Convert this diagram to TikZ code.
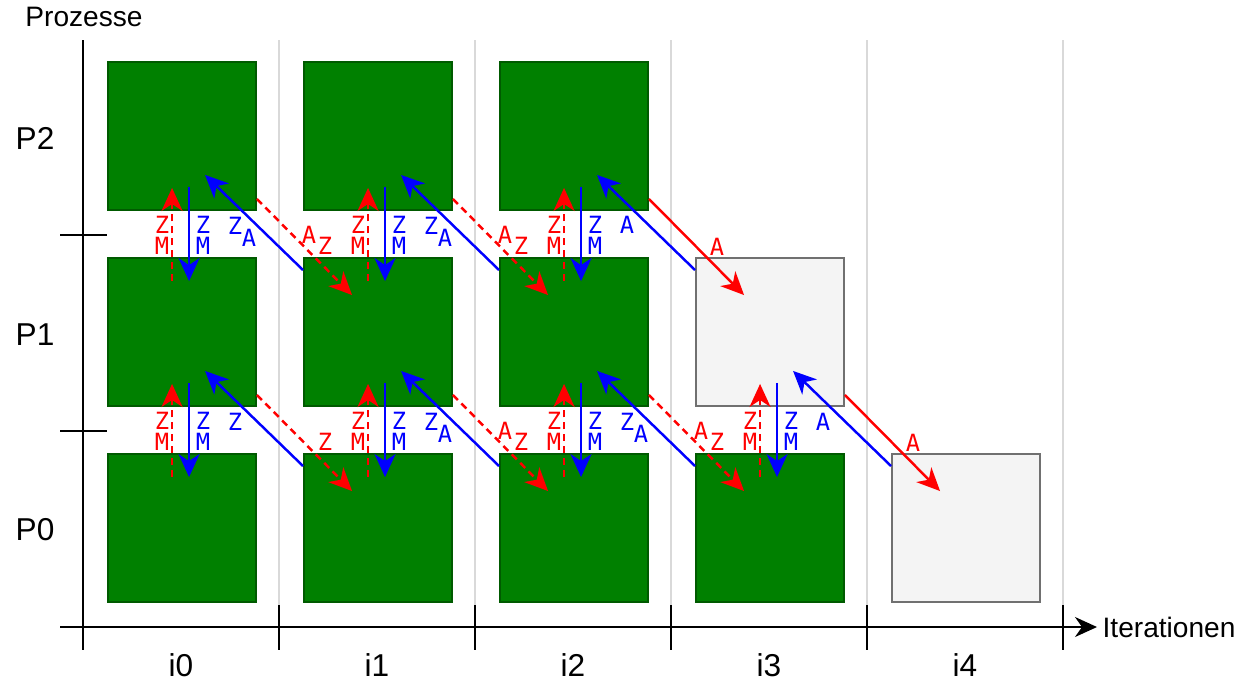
\documentclass[tikz,border=0pt]{standalone}
\usepackage{fontspec}
\setmainfont{Liberation Sans}
\setmonofont{DejaVu Sans Mono}
\usepackage{xcolor}
\usepackage{tikz}
\usetikzlibrary{arrows.meta,calc,positioning}

\definecolor{workfill}{HTML}{008000}
\definecolor{workline}{HTML}{005A00}
\definecolor{idlefill}{HTML}{F4F4F4}
\definecolor{idleline}{HTML}{707070}
\definecolor{gridgray}{HTML}{D9D9D9}

\begin{document}
\begin{tikzpicture}[x=0.02cm,y=-0.02cm]
  % Styles
  \tikzset{
    work/.style={rectangle, draw=workline, fill=workfill, line width=1.1pt,
      minimum width=2.96cm, minimum height=2.96cm, inner sep=0pt},
    idle/.style={rectangle, draw=idleline, fill=idlefill, line width=1.1pt,
      minimum width=2.96cm, minimum height=2.96cm, inner sep=0pt},
    axis/.style={line width=1.1pt, black},
    gridline/.style={line width=1.5pt, gridgray},
    big/.style={font=\fontsize{18}{18}\selectfont, inner sep=0pt},
    small/.style={font=\fontsize{16}{16}\selectfont, inner sep=0pt},
    msg/.style={font=\ttfamily\fontsize{13.5}{12}\selectfont, inner sep=0pt, align=center},
    tip/.style={-{Stealth[length=0.46cm,width=0.42cm,inset=0.14cm]}, line width=1.4pt},
    sendarrow/.style={tip, blue},
    recvarrow/.style={tip, red, dash pattern=on 4pt off 2.8pt},
    passarrow/.style={tip, red}
  }
  \useasboundingbox (0,0) rectangle (1254,691);

  % Grid and axes
  \coordinate (origin) at (83,627);
  \coordinate (xend) at (1097,627);
  \coordinate (yend) at (83,40);
  \draw[gridline] (279,40) -- (279,605);
  \draw[gridline] (475,40) -- (475,605);
  \draw[gridline] (671,40) -- (671,605);
  \draw[gridline] (867,40) -- (867,605);
  \draw[gridline] (1063,40) -- (1063,605);
  \draw[axis] (yend) -- (83,650);
  \draw[axis, -{Stealth[length=0.44cm,width=0.4cm,inset=0.14cm]}] (60,627) -- (xend);
  \draw[axis] (279,605) -- (279,650);
  \draw[axis] (475,605) -- (475,650);
  \draw[axis] (671,605) -- (671,650);
  \draw[axis] (867,605) -- (867,650);
  \draw[axis] (1063,605) -- (1063,650);
  \draw[axis] (60,235) -- (107,235);
  \draw[axis] (60,431) -- (107,431);

  % Axis labels
  \node[small] (procs) at (84,17) {Prozesse};
  \node[small, right=3pt of xend] (iters) {Iterationen};
  \node[big] (p2) at (35,138) {P2};
  \node[big] (p1) at (35,335) {P1};
  \node[big] (p0) at (35,530) {P0};
  \node[big] (i0) at (181,665) {i0};
  \node[big] (i1) at (377,665) {i1};
  \node[big] (i2) at (573,665) {i2};
  \node[big] (i3) at (769,665) {i3};
  \node[big] (i4) at (965,665) {i4};

  % Boxes
  \node[work] (i0p2) at (182,136) {};
  \node[work] (i1p2) at (378,136) {};
  \node[work] (i2p2) at (574,136) {};
  \node[work] (i0p1) at (182,332) {};
  \node[work] (i1p1) at (378,332) {};
  \node[work] (i2p1) at (574,332) {};
  \node[idle] (i3p1) at (770,332) {};
  \node[work] (i0p0) at (182,528) {};
  \node[work] (i1p0) at (378,528) {};
  \node[work] (i2p0) at (574,528) {};
  \node[work] (i3p0) at (770,528) {};
  \node[idle] (i4p0) at (966,528) {};

  % Arrows P2 <-> P1
  \draw[recvarrow] ($(i0p1.north west)+(65,24)$) -- ($(i0p2.south west)+(65,-23)$);
  \draw[sendarrow] ($(i0p2.south west)+(82,-24)$) -- ($(i0p1.north west)+(82,24)$);
  \draw[sendarrow] ($(i1p1.north west)+(0,13)$) -- ($(i0p2.south west)+(98,-36)$);
  \draw[recvarrow] ($(i0p2.south east)+(0,-12)$) -- ($(i1p1.north west)+(49,38)$);
  \draw[recvarrow] ($(i1p1.north west)+(65,24)$) -- ($(i1p2.south west)+(65,-23)$);
  \draw[sendarrow] ($(i1p2.south west)+(82,-24)$) -- ($(i1p1.north west)+(82,24)$);
  \draw[sendarrow] ($(i2p1.north west)+(0,13)$) -- ($(i1p2.south west)+(98,-36)$);
  \draw[recvarrow] ($(i1p2.south east)+(0,-12)$) -- ($(i2p1.north west)+(49,38)$);
  \draw[recvarrow] ($(i2p1.north west)+(65,24)$) -- ($(i2p2.south west)+(65,-23)$);
  \draw[sendarrow] ($(i2p2.south west)+(82,-24)$) -- ($(i2p1.north west)+(82,24)$);
  \draw[sendarrow] ($(i3p1.north west)+(0,13)$) -- ($(i2p2.south west)+(98,-36)$);
  \draw[passarrow] ($(i2p2.south east)+(0,-12)$) -- ($(i3p1.north west)+(49,38)$);

  % Arrows P1 <-> P0
  \draw[recvarrow] ($(i0p0.north west)+(65,24)$) -- ($(i0p1.south west)+(65,-23)$);
  \draw[sendarrow] ($(i0p1.south west)+(82,-24)$) -- ($(i0p0.north west)+(82,24)$);
  \draw[sendarrow] ($(i1p0.north west)+(0,13)$) -- ($(i0p1.south west)+(98,-36)$);
  \draw[recvarrow] ($(i0p1.south east)+(0,-12)$) -- ($(i1p0.north west)+(49,38)$);
  \draw[recvarrow] ($(i1p0.north west)+(65,24)$) -- ($(i1p1.south west)+(65,-23)$);
  \draw[sendarrow] ($(i1p1.south west)+(82,-24)$) -- ($(i1p0.north west)+(82,24)$);
  \draw[sendarrow] ($(i2p0.north west)+(0,13)$) -- ($(i1p1.south west)+(98,-36)$);
  \draw[recvarrow] ($(i1p1.south east)+(0,-12)$) -- ($(i2p0.north west)+(49,38)$);
  \draw[recvarrow] ($(i2p0.north west)+(65,24)$) -- ($(i2p1.south west)+(65,-23)$);
  \draw[sendarrow] ($(i2p1.south west)+(82,-24)$) -- ($(i2p0.north west)+(82,24)$);
  \draw[sendarrow] ($(i3p0.north west)+(0,13)$) -- ($(i2p1.south west)+(98,-36)$);
  \draw[recvarrow] ($(i2p1.south east)+(0,-12)$) -- ($(i3p0.north west)+(49,38)$);
  \draw[recvarrow] ($(i3p0.north west)+(65,24)$) -- ($(i3p1.south west)+(65,-23)$);
  \draw[sendarrow] ($(i3p1.south west)+(82,-24)$) -- ($(i3p0.north west)+(82,24)$);
  \draw[sendarrow] ($(i4p0.north west)+(0,13)$) -- ($(i3p1.south west)+(98,-36)$);
  \draw[passarrow] ($(i3p1.south east)+(0,-12)$) -- ($(i4p0.north west)+(49,38)$);

  % Message labels P2 <-> P1
  \node[msg, red] (rzm0a) at (162,235.5) {Z\\M};
  \node[msg, blue] (bzm0a) at (203,235.5) {Z\\M};
  \node[msg, blue] (sz0a) at (235,226) {Z};  \node[msg, blue] (sa0a) at (249,238) {A};
  \node[msg, red] (ra0a) at (309,235) {A};   \node[msg, red] (rr0a) at (325,246) {Z};
  \node[msg, red] (rzm1a) at (358,235.5) {Z\\M};
  \node[msg, blue] (bzm1a) at (399,235.5) {Z\\M};
  \node[msg, blue] (sz1a) at (431,226) {Z};  \node[msg, blue] (sa1a) at (445,238) {A};
  \node[msg, red] (ra1a) at (505,235) {A};   \node[msg, red] (rr1a) at (521,246) {Z};
  \node[msg, red] (rzm2a) at (554,235.5) {Z\\M};
  \node[msg, blue] (bzm2a) at (595,235.5) {Z\\M};
  \node[msg, blue] (sa2a) at (627,225) {A};
  \node[msg, red] (ra2a) at (717,247) {A};

  % Message labels P1 <-> P0
  \node[msg, red] (rzm0b) at (162,431.5) {Z\\M};
  \node[msg, blue] (bzm0b) at (203,431.5) {Z\\M};
  \node[msg, blue] (sz0b) at (235,422) {Z};
  \node[msg, red] (rr0b) at (325,442) {Z};
  \node[msg, red] (rzm1b) at (358,431.5) {Z\\M};
  \node[msg, blue] (bzm1b) at (399,431.5) {Z\\M};
  \node[msg, blue] (sz1b) at (431,422) {Z};  \node[msg, blue] (sa1b) at (445,434) {A};
  \node[msg, red] (ra1b) at (505,431) {A};   \node[msg, red] (rr1b) at (521,442) {Z};
  \node[msg, red] (rzm2b) at (554,431.5) {Z\\M};
  \node[msg, blue] (bzm2b) at (595,431.5) {Z\\M};
  \node[msg, blue] (sz2b) at (627,422) {Z};  \node[msg, blue] (sa2b) at (641,434) {A};
  \node[msg, red] (ra2b) at (701,431) {A};   \node[msg, red] (rr2b) at (717,442) {Z};
  \node[msg, red] (rzm3b) at (750,431.5) {Z\\M};
  \node[msg, blue] (bzm3b) at (791,431.5) {Z\\M};
  \node[msg, blue] (sa3b) at (823,422) {A};
  \node[msg, red] (ra3b) at (913,443) {A};

\end{tikzpicture}
\end{document}
